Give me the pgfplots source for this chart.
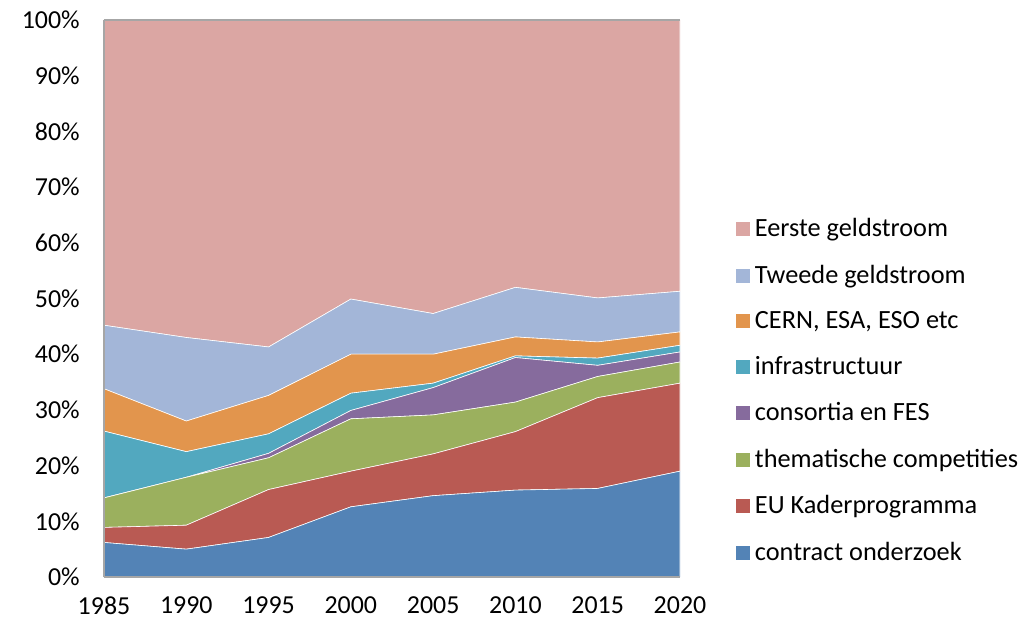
\documentclass[border=0pt]{standalone}
\usepackage{pgfplots}
\pgfplotsset{compat=1.18}
\usepackage{fontspec}
\setmainfont{Carlito}
\definecolor{cBlue}{HTML}{5383B6}
\definecolor{cRed}{HTML}{B95A53}
\definecolor{cGreen}{HTML}{9BB05E}
\definecolor{cPurple}{HTML}{866B9D}
\definecolor{cTeal}{HTML}{52A8BF}
\definecolor{cOrange}{HTML}{E2954D}
\definecolor{cLBlue}{HTML}{A3B6D8}
\definecolor{cPink}{HTML}{DBA6A3}
\begin{document}
\begin{tikzpicture}
\useasboundingbox (-52bp,-23bp) rectangle (459.5bp,288.5bp);
\begin{axis}[
  at={(0,0)}, anchor=south west,
  scale only axis,
  width=288bp, height=278.5bp,
  xmin=1985, xmax=2020, ymin=0, ymax=100,
  xtick={1985,1990,...,2020},
  ytick={0,10,...,100},
  /pgf/number format/assume math mode=true,
  x tick label style={/pgf/number format/1000 sep={}},
  yticklabel={\pgfmathprintnumber{\tick}\%},
  tick label style={font=\fontsize{13}{15.5}\selectfont},
  yticklabel style={xshift=-6.5bp},
  xticklabel style={yshift=-6.5bp},
  axis x line=box, axis y line=left,
  axis line style={gray!70, line width=0.8pt, -},
  tick style={draw=none},
  axis on top,
  stack plots=y,
  area style,
  every axis plot/.append style={draw=white, line width=0.3pt},
  reverse legend,
  legend style={at={(1,1)}, anchor=north west, xshift=24.5bp, yshift=-95bp,
    draw=none, fill=none, font=\fontsize{13.2}{15.5}\selectfont,
    row sep=8.6bp, legend cell align=left},
  legend image code/.code={\fill[#1] (0bp,-3.75bp) rectangle (7.5bp,3.75bp);},
]
\addplot[fill=cBlue] coordinates {(1985,6.2) (1990,5.0) (1995,7.1) (2000,12.6) (2005,14.6) (2010,15.6) (2015,15.9) (2020,19.0)} \closedcycle;
\addlegendentry{contract onderzoek}
\addplot[fill=cRed] coordinates {(1985,2.7) (1990,4.3) (1995,8.6) (2000,6.4) (2005,7.5) (2010,10.5) (2015,16.3) (2020,15.8)} \closedcycle;
\addlegendentry{EU Kaderprogramma}
\addplot[fill=cGreen] coordinates {(1985,5.3) (1990,8.6) (1995,5.7) (2000,9.4) (2005,7.0) (2010,5.3) (2015,3.8) (2020,3.8)} \closedcycle;
\addlegendentry{thematische competities}
\addplot[fill=cPurple] coordinates {(1985,0) (1990,0) (1995,0.8) (2000,1.5) (2005,4.9) (2010,8.0) (2015,2.0) (2020,1.8)} \closedcycle;
\addlegendentry{consortia en FES}
\addplot[fill=cTeal] coordinates {(1985,12.0) (1990,4.6) (1995,3.5) (2000,3.1) (2005,0.8) (2010,0.3) (2015,1.3) (2020,1.2)} \closedcycle;
\addlegendentry{infrastructuur}
\addplot[fill=cOrange] coordinates {(1985,7.6) (1990,5.5) (1995,6.9) (2000,7.0) (2005,5.2) (2010,3.4) (2015,2.9) (2020,2.4)} \closedcycle;
\addlegendentry{CERN, ESA, ESO etc}
\addplot[fill=cLBlue] coordinates {(1985,11.4) (1990,15.0) (1995,8.7) (2000,9.9) (2005,7.3) (2010,8.9) (2015,7.9) (2020,7.3)} \closedcycle;
\addlegendentry{Tweede geldstroom}
\addplot[fill=cPink] coordinates {(1985,54.8) (1990,57.0) (1995,58.7) (2000,50.1) (2005,52.7) (2010,48.0) (2015,49.9) (2020,48.7)} \closedcycle;
\addlegendentry{Eerste geldstroom}
\end{axis}
\end{tikzpicture}
\end{document}
